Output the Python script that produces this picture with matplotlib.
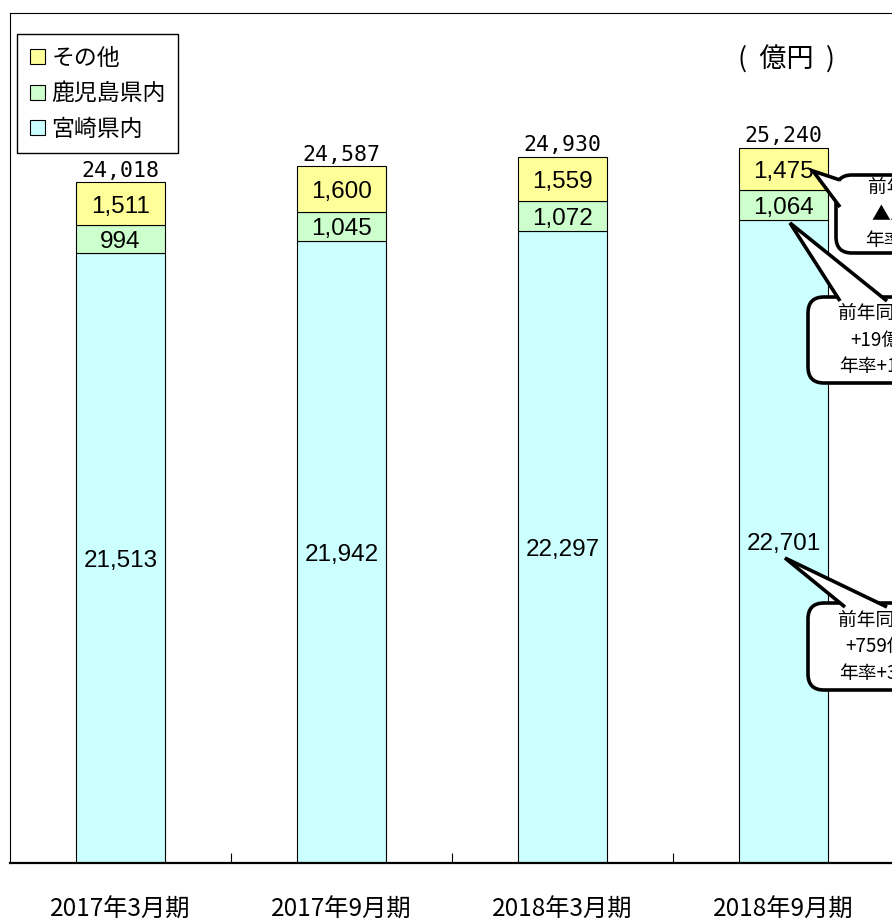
import matplotlib.pyplot as plt
from matplotlib.patches import FancyBboxPatch, Polygon
from matplotlib.transforms import IdentityTransform
import numpy as np

periods = ['2017年3月期', '2017年9月期', '2018年3月期', '2018年9月期']
miyazaki = [21513, 21942, 22297, 22701]
kagoshima = [994, 1045, 1072, 1064]
others = [1511, 1600, 1559, 1475]
totals = [24018, 24587, 24930, 25240]

series_names = ['宮崎県内', '鹿児島県内', 'その他']
colors = ['#CCFFFF', '#CCFFCC', '#FFFF99']

callouts = [
    '前年同期比\n▲125億円\n年率▲7.8%',
    '前年同期比\n+19億円\n年率+1.8%',
    '前年同期比\n+759億円\n年率+3.5%',
]

W, H = 892, 922
jp = ['Noto Sans CJK JP', 'DejaVu Sans']

fig = plt.figure(figsize=(W / 100, H / 100), dpi=100)
# axes runs past the right edge of the picture (cropped original)
ax = fig.add_axes([10 / W, 59 / H, 1105 / W, 850 / H])

x = np.arange(len(periods))
bottom = np.zeros(len(periods))
handles = []
for vals, name, c in zip([miyazaki, kagoshima, others], series_names, colors):
    bars = ax.bar(x, vals, width=0.4, bottom=bottom, color=c,
                  edgecolor='black', linewidth=0.8, label=name)
    handles.append(bars)
    for xi, b, v in zip(x, bottom, vals):
        ax.text(xi, b + v / 2 - 100, f'{v:,}', ha='center', va='center',
                fontsize=17.5, family='Liberation Sans')
    bottom += np.array(vals)

for xi, t in zip(x, totals):
    ax.text(xi, t + 60, f'{t:,}', ha='center', va='bottom',
            fontsize=15.5, family='DejaVu Sans Mono')

ax.set_xlim(-0.5, 4.5)
ax.set_ylim(0, 30000)
ax.set_yticks([])
ax.set_xticks(x)
ax.set_xticklabels(periods, family=jp, fontsize=17.5)
ax.tick_params(axis='x', which='major', length=0, pad=24)
ax.set_xticks(x[:-1] + 0.5, minor=True)
ax.tick_params(axis='x', which='minor', direction='in', length=7, width=0.8)
for s in ['left', 'top']:
    ax.spines[s].set_linewidth(0.8)
ax.spines['bottom'].set_linewidth(1.6)

leg = ax.legend(handles[::-1], series_names[::-1], loc='upper left',
                bbox_to_anchor=(17 / W, 1 - 34 / H), bbox_transform=fig.transFigure,
                borderaxespad=0, fancybox=False, framealpha=1, edgecolor='black',
                prop={'family': jp, 'size': 16.5}, handlelength=0.65, handleheight=0.65,
                handletextpad=0.3, labelspacing=0.55, borderpad=0.55)
leg.get_frame().set_linewidth(1.0)

fig.text(787 / W, 1 - 60 / H, '(  億円  )', ha='center', va='center',
         fontsize=19.5, family=jp)

# speech bubbles, in picture pixels (top-left origin)
pix = IdentityTransform()


def P(px, py):
    return (px, H - py)


bubbles = [
    # box left, top, bottom, text centre x, pointer tip, pointer base points
    (836, 175, 253, 915, (813, 171), [(840, 180), (840, 207)]),
    (808, 297, 383, 885, (790, 223), [(840, 301), (887, 301)]),
    (808, 603, 690, 885, (785, 558), [(845, 607), (887, 607)]),
]
for (left, top, bot, cx, tip, base), txt in zip(bubbles, callouts):
    box = FancyBboxPatch(P(left, bot), 160, bot - top,
                         boxstyle='round,pad=0,rounding_size=16',
                         transform=pix, facecolor='white', edgecolor='black',
                         linewidth=2.6, zorder=5)
    fig.patches.append(box)
    ptr = Polygon([P(*base[0]), P(*tip), P(*base[1])], closed=False,
                  transform=pix, facecolor='white', edgecolor='black',
                  linewidth=2.6, joinstyle='miter', zorder=6)
    fig.patches.append(ptr)
    fig.text(cx / W, 1 - (top + bot) / 2 / H, txt, ha='center', va='center',
             fontsize=13.5, family=jp, linespacing=1.35, zorder=7)

fig.savefig('out.png', dpi=100)
